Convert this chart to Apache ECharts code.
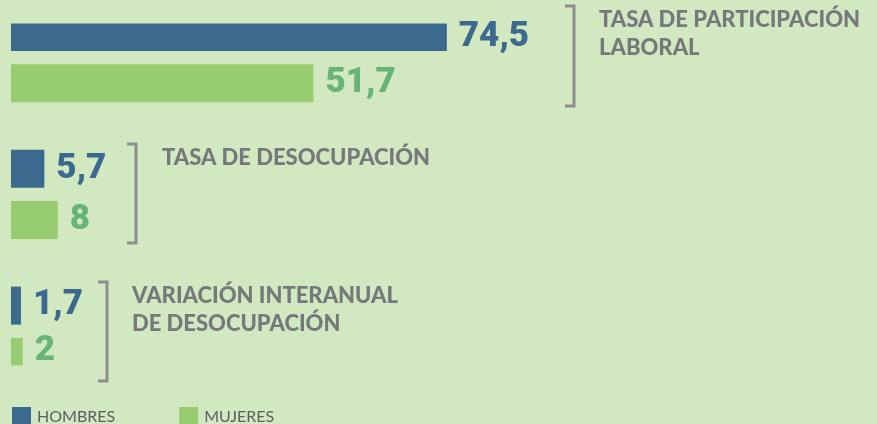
<!DOCTYPE html>
<html>
<head>
<meta charset="utf-8">
<script src="https://cdn.jsdelivr.net/npm/echarts@6/dist/echarts.min.js"></script>
<style>
html,body{margin:0;padding:0;background:#d2e8c0;}
#chart{width:877px;height:424px;}
</style>
</head>
<body>
<div id="chart"></div>
<script>
// Data
const groups = ['TASA DE PARTICIPACIÓN\nLABORAL', 'TASA DE DESOCUPACIÓN', 'VARIACIÓN INTERANUAL\nDE DESOCUPACIÓN'];
const seriesNames = ['HOMBRES', 'MUJERES'];
const hombres = [74.5, 5.7, 1.7];
const mujeres = [51.7, 8, 2];

// Layout helpers
const SLOTS = 20;
const slotsCat = Array.from({length: SLOTS}, (_, i) => String(i));
function place(values, offset) {
  const arr = new Array(SLOTS).fill('-');
  values.forEach((v, g) => { arr[g * 8 + offset] = v; });
  return arr;
}
const BLUE = '#3c6a8f';
const GREEN = '#98cc70';
const GREEN_TXT = '#67b574';
const GRAY = '#76797b';
const BR = '#8b8d8f';

const fmt = p => String(p.value).replace('.', ',');
const labelStyle = color => ({
  show: true, position: 'right', distance: 12, formatter: fmt,
  fontFamily: 'Roboto', fontWeight: 900, fontSize: 35, color: color
});

function bracket(x, y1, y2) {
  return {
    type: 'polyline',
    shape: { points: [[x - 9, y1], [x, y1], [x, y2], [x - 9, y2]] },
    style: { stroke: BR, lineWidth: 3, fill: null }
  };
}
function title(text, x, y) {
  return {
    type: 'text', x: x, y: y,
    style: { text: text, font: '900 22px Lato', fill: GRAY, lineHeight: 28, textVerticalAlign: 'top' }
  };
}

const chart = echarts.init(document.getElementById('chart'));
chart.setOption({
  backgroundColor: '#d2e8c0',
  animation: false,
  grid: { left: 11, top: 23.45, width: 585, height: 342 },
  xAxis: { type: 'value', min: 0, max: 100, show: false },
  yAxis: { type: 'category', data: slotsCat, inverse: true, show: false },
  legend: {
    data: seriesNames, left: 7, top: 402, itemWidth: 19, itemHeight: 19, itemGap: 64,
    icon: 'rect',
    textStyle: { fontFamily: 'Lato', fontSize: 16, color: '#5c6062', padding: [3, 0, 0, 1] }
  },
  series: [
    { name: seriesNames[0], type: 'bar', data: place(hombres, 0), barWidth: 38, barGap: '-100%',
      itemStyle: { color: BLUE }, label: labelStyle(BLUE) },
    { name: seriesNames[1], type: 'bar', data: place(mujeres, 3), barWidth: 38, barGap: '-100%',
      itemStyle: { color: GREEN }, label: labelStyle(GREEN_TXT) }
  ],
  graphic: [
    bracket(574, 6, 106),
    bracket(136, 144, 243),
    bracket(107, 282, 381),
    title(groups[0], 599, 6),
    title(groups[1], 162, 144),
    title(groups[2], 132, 282)
  ]
});
</script>
</body>
</html>
